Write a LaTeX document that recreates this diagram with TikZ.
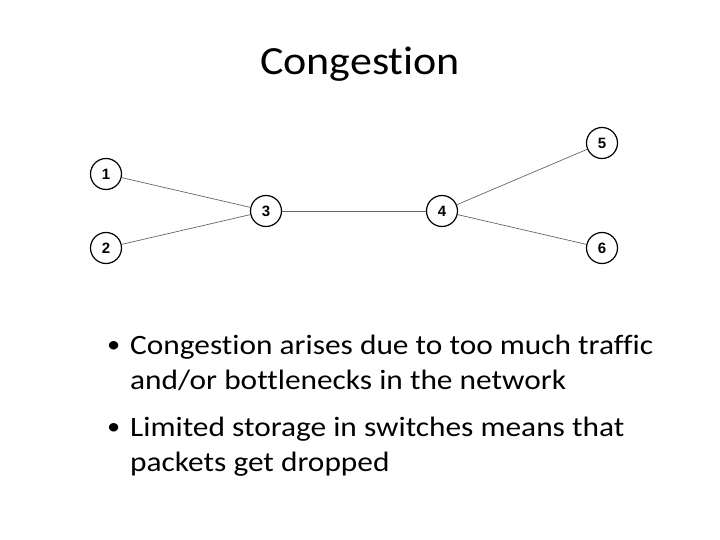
\documentclass[tikz,border=0pt]{standalone}
\usepackage{fontspec}
\setmainfont[Ligatures={NoCommon},FakeStretch=1.1]{Carlito}
\newfontfamily\bodyfont[Ligatures={NoCommon},FakeStretch=1.12]{Carlito}
\newfontfamily\numfont{Liberation Sans}
\begin{document}
\begin{tikzpicture}[x=1pt,y=-1pt,
  netnode/.style={circle,draw=black,line width=1.2pt,minimum size=31pt,inner sep=0pt,font=\numfont\bfseries\fontsize{15}{15}\selectfont},
  link/.style={draw=black!60,line width=0.7pt},
  bodyline/.style={anchor=base west,inner sep=0pt,font=\bodyfont\fontsize{28}{34}\selectfont},
  bulletmark/.style={anchor=base west,inner sep=0pt,font=\fontsize{24}{24}\selectfont}]
\useasboundingbox (0,0) rectangle (720,540);
\node[anchor=base,inner sep=0pt,font=\fontsize{40}{44}\selectfont] (title) at (360,75) {Congestion};
\node[netnode] (n1) at (106,174) {1};
\node[netnode] (n2) at (106,248) {2};
\node[netnode] (n3) at (266,211) {3};
\node[netnode] (n4) at (442,211) {4};
\node[netnode] (n5) at (602,143) {5};
\node[netnode] (n6) at (602,248) {6};
\draw[link] (n1) -- (n3);
\draw[link] (n2) -- (n3);
\draw[link] (n3) -- (n4);
\draw[link] (n4) -- (n5);
\draw[link] (n4) -- (n6);
\node[bulletmark] (m1) at (107,352) {•};
\node[bodyline] (l1) at (130,354) {Congestion arises due to too much traffic};
\node[bodyline] (l2) at (130,389) {and/or bottlenecks in the network};
\node[bulletmark] (m2) at (107,434) {•};
\node[bodyline] (l3) at (130,436) {Limited storage in switches means that};
\node[bodyline] (l4) at (130,471) {packets get dropped};
\end{tikzpicture}
\end{document}
